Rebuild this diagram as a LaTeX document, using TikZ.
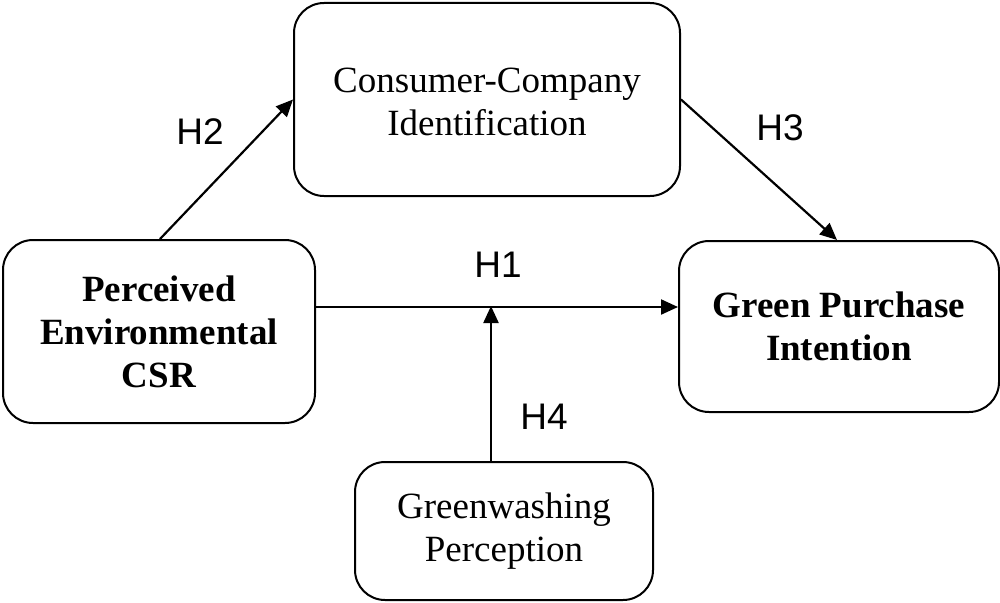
\documentclass[tikz,border=0pt]{standalone}
\usepackage{fontspec}
\setmainfont{Liberation Serif}
\newfontfamily\labfont{Liberation Sans}
\usetikzlibrary{arrows.meta}
\begin{document}
\begin{tikzpicture}[x=1pt,y=-1pt,
  box/.style={draw=black,line width=2pt,rounded corners=30pt,align=center,
    inner sep=0pt,font=\fontsize{37}{43}\selectfont},
  arr/.style={line width=2.2pt,-{Triangle[length=17pt,width=15pt]}},
  hlab/.style={font=\labfont\fontsize{37}{43}\selectfont,inner sep=0pt}]
\useasboundingbox (0,0) rectangle (1000,602);
\node[box,minimum width=386pt,minimum height=193pt] (CCI) at (487,99.5) {\\[-13pt]Consumer-Company\\Identification};
\node[box,minimum width=312pt,minimum height=183pt,font=\fontsize{37}{43}\selectfont\bfseries] (PEC) at (159,331.5) {Perceived\\Environmental\\CSR};
\node[box,minimum width=320pt,minimum height=171pt,font=\fontsize{37}{43}\selectfont\bfseries] (GPI) at (839,326.5) {Green Purchase\\Intention};
\node[box,minimum width=298pt,minimum height=138pt] (GW) at (504,531) {Greenwashing\\Perception};
\coordinate (m) at (491,307);
\draw[arr] (PEC.north -| 160,0) -- (CCI.west);
\draw[arr] (CCI.east) -- (GPI.north -| 837,0);
\draw[arr] (PEC.east |- m) -- (GPI.west |- m);
\draw[arr,shorten >=-1pt] (GW.north -| m) -- (m);
\node[hlab] (h2) at (200,132) {H2};
\node[hlab] (h3) at (780,128) {H3};
\node[hlab] (h1) at (498,265) {H1};
\node[hlab] (h4) at (544,417) {H4};
\end{tikzpicture}
\end{document}
